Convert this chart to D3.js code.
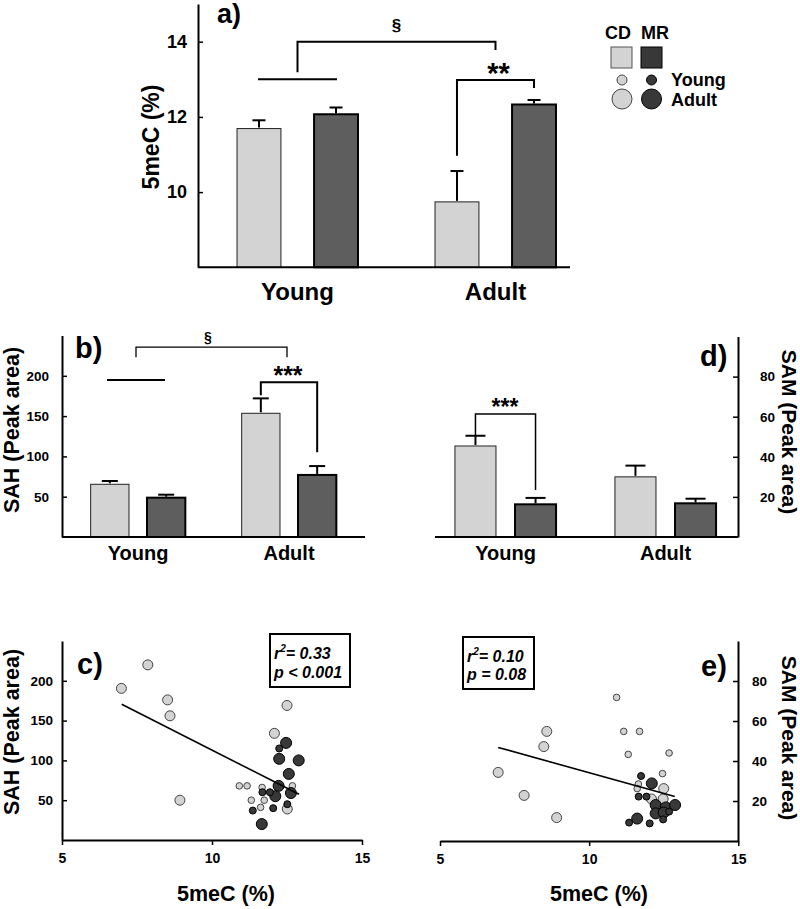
<!DOCTYPE html>
<html><head><meta charset="utf-8">
<script src="https://cdn.jsdelivr.net/npm/d3@7"></script>
<style>
body{margin:0;background:#fff}
svg{display:block}
text{font-family:"Liberation Sans",Arial,sans-serif;font-weight:bold;fill:#000}
</style>
</head><body>
<svg id="chart" width="800" height="909"></svg>
<script>
// ---------------- DATA ----------------
const groups = ["Young","Adult"];
const diets = ["CD","MR"];
// order: Young-CD, Young-MR, Adult-CD, Adult-MR
const meC_mean = [11.69, 12.07, 9.74, 12.33];
const meC_err  = [0.22, 0.18, 0.82, 0.12];
const sah_mean = [65.4, 48.8, 153.5, 77.0];
const sah_err  = [4.1, 3.7, 18.5, 11.0];
const sam_mean = [45.4, 16.3, 30.0, 16.8];
const sam_err  = [5.1, 3.2, 5.6, 2.3];

const meC_ticks = [10, 12, 14];
const sah_ticks = [50, 100, 150, 200];
const sam_ticks = [20, 40, 60, 80];
const x_ticks = [5, 10, 15];

// scatter c: 5meC (%) vs SAH
const c_CD_Young = [[10.91,68],[11.17,68],[11.67,66],[12.68,68],[11.31,50],[11.74,50],[11.62,41]];
const c_CD_Adult = [[7.86,220],[6.98,190.5],[8.52,176],[8.6,156],[8.93,50],[12.5,169],[12.08,134],[12.51,39]];
const c_MR_Young = [[12.24,115],[11.68,60],[11.93,60],[11.36,37],[12.04,40],[12.51,45]];
const c_MR_Adult = [[12.47,122],[12.24,102],[12.89,100],[12.56,83],[12.22,68],[12.63,59],[12.11,55],[11.66,20]];
const c_fit = [[6.99,170.5],[12.9,57.4]];

// scatter e: 5meC (%) vs SAM
const e_CD_Young = [[10.92,71.8],[11.16,54.8],[11.69,54.8],[11.31,43.3],[12.68,44],[12.46,33.7],[11.65,28.5],[11.61,26.2]];
const e_CD_Adult = [[6.95,34.3],[7.82,22.8],[8.58,54.8],[8.48,47.2],[8.91,11.7],[12.5,26.2],[12.09,21],[12.48,21]];
const e_MR_Young = [[11.74,32.5],[11.66,22.2],[11.92,22.2],[11.34,9.2],[12.03,8.8],[12.48,10.8],[12.68,14.7]];
const e_MR_Adult = [[12.1,28.8],[11.61,11.2],[12.23,18],[12.57,16.8],[12.88,18],[12.23,13.8],[12.5,14.2]];
const e_fit = [[6.95,46.8],[12.87,22.2]];

// ---------------- STYLE ----------------
const LIGHT = "#d3d3d3", DARK_BAR = "#5e5e5e", DARK_PT = "#383838";
const FONT = '"Liberation Sans",Arial,sans-serif';
const svg = d3.select("#chart");

function txt(x, y, s, size, opts = {}) {
  const t = svg.append("text").attr("x", x).attr("y", y).attr("font-size", size).text(s);
  if (opts.anchor) t.attr("text-anchor", opts.anchor);
  if (opts.italic) t.attr("font-style", "italic");
  return t;
}
function rotText(x, y, s, size, angle) {
  svg.append("text").attr("transform", `translate(${x},${y}) rotate(${angle})`)
    .attr("text-anchor", "middle").attr("font-size", size).text(s);
}
function poly(pts, w) {
  svg.append("path").attr("d", d3.line()(pts)).attr("fill", "none")
    .attr("stroke", "#000").attr("stroke-width", w);
}
function styleAxis(g, fs) {
  g.select(".domain").attr("stroke-width", 2);
  g.selectAll(".tick line").attr("stroke-width", 1.5);
  g.selectAll(".tick text").attr("font-size", fs).attr("font-family", FONT).attr("font-weight", "bold");
}

// ---------------- BAR PANELS ----------------
function barPanel(o) {
  const x0 = d3.scaleBand().domain(groups).range(o.xr);
  const x1 = d3.scaleBand().domain(diets).range([0, x0.bandwidth()]).paddingInner(o.pi).paddingOuter(o.po);
  const y = d3.scaleLinear().domain(o.yd).range(o.yr);
  const rows = [];
  groups.forEach((gr, gi) => diets.forEach((d, di) => rows.push({gr, d, m: o.means[gi*2+di], e: o.errs[gi*2+di]})));
  const g = svg.append("g");
  g.selectAll("rect").data(rows).join("rect")
    .attr("x", r => x0(r.gr) + x1(r.d)).attr("width", x1.bandwidth())
    .attr("y", r => y(r.m)).attr("height", r => y(o.yd[0]) - y(r.m))
    .attr("fill", r => r.d === "CD" ? LIGHT : DARK_BAR)
    .attr("stroke", r => r.d === "CD" ? "#222" : "#000")
    .attr("stroke-width", r => r.d === "CD" ? 1 : 2);
  const cx = r => x0(r.gr) + x1(r.d) + x1.bandwidth() / 2;
  g.selectAll("line.eb").data(rows).join("line").attr("class", "eb")
    .attr("x1", cx).attr("x2", cx).attr("y1", r => y(r.m) - 1).attr("y2", r => y(r.m + r.e))
    .attr("stroke", "#000").attr("stroke-width", 2);
  g.selectAll("line.cap").data(rows).join("line").attr("class", "cap")
    .attr("x1", r => cx(r) - o.cap / 2).attr("x2", r => cx(r) + o.cap / 2)
    .attr("y1", r => y(r.m + r.e)).attr("y2", r => y(r.m + r.e))
    .attr("stroke", "#000").attr("stroke-width", 2);
  const ax = o.right ? d3.axisRight(y) : d3.axisLeft(y);
  const ag = svg.append("g").attr("transform", `translate(${o.axisX},0)`)
    .call(ax.tickValues(o.ticks).tickSizeInner(-5).tickSizeOuter(0).tickPadding(o.tp).tickFormat(d3.format("d")));
  styleAxis(ag, o.tfs);
  poly([[o.xline[0], y(o.yd[0])], [o.xline[1], y(o.yd[0])]], 2);
  groups.forEach(gr => txt(x0(gr) + x0.bandwidth() / 2, o.labY, gr, o.lfs, {anchor: "middle"}));
  return {x0, x1, y, gx: gr => x0(gr) + x0.bandwidth() / 2, bx: (gr, d) => x0(gr) + x1(d) + x1.bandwidth() / 2};
}

// Panel a
const A = barPanel({xr: [198.5, 594.5], pi: 0.43, po: 0.5, yd: [8, 15], yr: [267.3, 4.1],
  means: meC_mean, errs: meC_err, cap: 13, axisX: 198, ticks: meC_ticks, tp: 11, tfs: 18,
  xline: [198, 570], labY: 300, lfs: 24});
poly([[A.gx("Young") - 39.5, A.y(13.0)], [A.gx("Young") + 39.5, A.y(13.0)]], 2);
poly([[A.gx("Young"), A.y(13.19)], [A.gx("Young"), A.y(14.0)], [A.gx("Adult"), A.y(14.0)], [A.gx("Adult"), A.y(13.78)]], 2);
txt((A.gx("Young") + A.gx("Adult")) / 2, 31, "§", 17, {anchor: "middle"});
poly([[A.bx("Adult","CD"), A.y(10.97)], [A.bx("Adult","CD"), A.y(12.98)], [A.bx("Adult","MR"), A.y(12.98)], [A.bx("Adult","MR"), A.y(12.77)]], 2);
txt((A.bx("Adult","CD") + A.bx("Adult","MR")) / 2 + 3, 83, "**", 29, {anchor: "middle"});
txt(217, 23, "a)", 27);
rotText(159, 137, "5meC (%)", 23, -90);

// Panel b
const B = barPanel({xr: [62.5, 364.5], pi: 0.32, po: 0.5, yd: [0, 250], yr: [537, 335.5],
  means: sah_mean, errs: sah_err, cap: 16, axisX: 62, ticks: sah_ticks, tp: 13, tfs: 13.5,
  xline: [62, 365], labY: 559.5, lfs: 20});
poly([[B.gx("Young") - 31, B.y(194.8)], [B.gx("Young") + 27, B.y(194.8)]], 1.8);
poly([[B.gx("Young") - 2, B.y(223)], [B.gx("Young") - 2, B.y(235.7)], [B.gx("Adult") - 2, B.y(235.7)], [B.gx("Adult") - 2, B.y(223)]], 1.3);
txt(208, 342, "§", 14, {anchor: "middle"});
poly([[B.bx("Adult","CD"), B.y(176)], [B.bx("Adult","CD"), B.y(192)], [B.bx("Adult","MR"), B.y(192)], [B.bx("Adult","MR"), B.y(105)]], 2);
txt(288, 384, "***", 25, {anchor: "middle"});
txt(75, 358, "b)", 29);
rotText(18.5, 430, "SAH (Peak area)", 21.5, -90);

// Panel d
const D = barPanel({xr: [425.5, 745.5], pi: 0.317, po: 0.49, yd: [0, 100], yr: [537, 336.5],
  means: sam_mean, errs: sam_err, cap: 20, axisX: 738, ticks: sam_ticks, tp: 22, tfs: 13.5, right: true,
  xline: [435, 738], labY: 559.5, lfs: 20});
poly([[D.bx("Young","CD"), D.y(50.9)], [D.bx("Young","CD"), D.y(61.3)], [D.bx("Young","MR"), D.y(61.3)], [D.bx("Young","MR"), D.y(23.4)]], 1.5);
txt(505, 415, "***", 23, {anchor: "middle"});
txt(700, 366, "d)", 29);
rotText(782, 432, "SAM (Peak area)", 21, 90);

// ---------------- SCATTER PANELS ----------------
function scatterPanel(o) {
  const x = d3.scaleLinear().domain([5, 15]).range(o.xr);
  const y = d3.scaleLinear().domain(o.yd).range(o.yr);
  const xg = svg.append("g").attr("transform", `translate(0,${o.yr[0]})`)
    .call(d3.axisBottom(x).tickValues(x_ticks).tickSizeInner(5).tickSizeOuter(0).tickPadding(8).tickFormat(d3.format("d")));
  styleAxis(xg, 14);
  const ax = o.right ? d3.axisRight(y) : d3.axisLeft(y);
  const yg = svg.append("g").attr("transform", `translate(${o.axisX},0)`)
    .call(ax.tickValues(o.ticks).tickSizeInner(-5).tickSizeOuter(0).tickPadding(o.tp).tickFormat(d3.format("d")));
  styleAxis(yg, 13.5);
  const sets = [
    {pts: o.cdA, fill: LIGHT, stroke: "#444", r: 5},
    {pts: o.cdY, fill: LIGHT, stroke: "#444", r: 3.3},
    {pts: o.mrA, fill: DARK_PT, stroke: "#000", r: 5.5},
    {pts: o.mrY, fill: DARK_PT, stroke: "#000", r: 3.5}
  ];
  sets.forEach(s => {
    svg.append("g").selectAll("circle").data(s.pts).join("circle")
      .attr("cx", d => x(d[0])).attr("cy", d => y(d[1])).attr("r", s.r)
      .attr("fill", s.fill).attr("stroke", s.stroke).attr("stroke-width", 1);
  });
  svg.append("path").attr("d", d3.line().x(d => x(d[0])).y(d => y(d[1]))(o.fit))
    .attr("stroke", "#000").attr("stroke-width", 1.6).attr("fill", "none");
  return {x, y};
}

function statBox(x, y, w, h, r2, p, b1, b2) {
  svg.append("rect").attr("x", x).attr("y", y).attr("width", w).attr("height", h)
    .attr("fill", "#fff").attr("stroke", "#000").attr("stroke-width", 2);
  const t = svg.append("text").attr("x", x + 4).attr("y", b1).attr("font-size", 16).attr("font-style", "italic");
  t.append("tspan").text("r");
  t.append("tspan").attr("font-size", 10).attr("dy", -7).text("2");
  t.append("tspan").attr("dy", 7).text("= " + r2);
  svg.append("text").attr("x", x + 4).attr("y", b2).attr("font-size", 16).attr("font-style", "italic").text(p);
}

// Panel c
scatterPanel({xr: [62, 362], yd: [0, 250], yr: [840, 641], axisX: 62, ticks: sah_ticks, tp: 9,
  cdY: c_CD_Young, cdA: c_CD_Adult, mrY: c_MR_Young, mrA: c_MR_Adult, fit: c_fit});
statBox(270, 634, 80, 53, "0.33", "p < 0.001", 659, 678);
txt(77, 674, "c)", 29);
rotText(18.5, 732, "SAH (Peak area)", 21.5, -90);
txt(226, 901, "5meC (%)", 21.5, {anchor: "middle"});

// Panel e
scatterPanel({xr: [440, 738.3], yd: [0, 100], yr: [841, 641], axisX: 738, ticks: sam_ticks, tp: 14, right: true,
  cdY: e_CD_Young, cdA: e_CD_Adult, mrY: e_MR_Young, mrA: e_MR_Adult, fit: e_fit});
statBox(463, 637, 71, 52, "0.10", "p = 0.08", 662, 680);
txt(701, 676, "e)", 29);
rotText(782, 738, "SAM (Peak area)", 21, 90);
txt(599, 901, "5meC (%)", 21.5, {anchor: "middle"});

// ---------------- LEGEND ----------------
txt(605, 39, "CD", 18);
txt(641, 39, "MR", 18);
svg.append("rect").attr("x", 611).attr("y", 47).attr("width", 21).attr("height", 21).attr("fill", LIGHT).attr("stroke", "#555").attr("stroke-width", 1);
svg.append("rect").attr("x", 641).attr("y", 47).attr("width", 21).attr("height", 21).attr("fill", DARK_PT).attr("stroke", "#000").attr("stroke-width", 1);
svg.append("circle").attr("cx", 622).attr("cy", 80).attr("r", 5).attr("fill", LIGHT).attr("stroke", "#444");
svg.append("circle").attr("cx", 651.5).attr("cy", 80).attr("r", 5).attr("fill", DARK_PT).attr("stroke", "#000");
svg.append("circle").attr("cx", 622).attr("cy", 99).attr("r", 10).attr("fill", LIGHT).attr("stroke", "#444");
svg.append("circle").attr("cx", 651.5).attr("cy", 99).attr("r", 10).attr("fill", DARK_PT).attr("stroke", "#000");
txt(671, 86, "Young", 18);
txt(671, 106, "Adult", 18);
</script>
</body></html>
